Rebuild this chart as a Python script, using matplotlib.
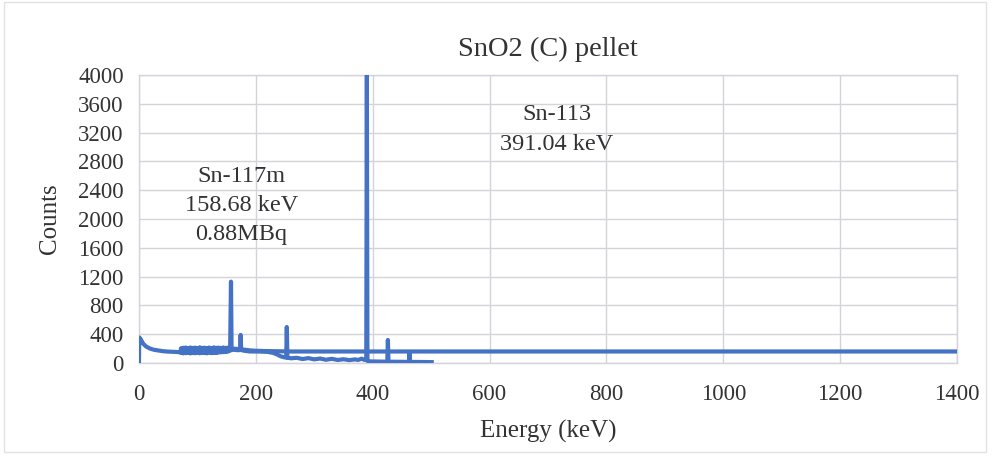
import matplotlib
matplotlib.use("Agg")
import matplotlib.pyplot as plt
from matplotlib.patches import Rectangle

# ---- data ----
# lower spectrum trace (0 - 500 keV)
energy_a_head = [0, 0.5, 3, 7, 12, 19, 25, 30, 40, 50, 60, 70]
counts_a_head = [0, 355, 330, 270, 230, 200, 185, 178, 165, 158, 155, 150]
band_energy = list(range(72, 158, 2))  # dense noisy region 72-156 keV
counts_a_band = [140, 152, 134, 148, 137, 155, 141, 150, 133, 147,
                 139, 154, 136, 149, 142, 156, 135, 146, 140, 153,
                 138, 151, 134, 148, 143, 157, 137, 150, 141, 155,
                 139, 152, 145, 158, 147, 160, 150, 162, 153, 165,
                 158, 168, 170]
energy_a_tail = [157.5, 158.5, 162, 166, 170, 173, 174, 175, 180, 190, 200,
                 210, 220, 230, 236, 242, 248, 252, 253, 254, 260, 270, 280,
                 290, 300, 310, 320, 330, 340, 350, 360, 370, 375, 381, 385,
                 389, 390, 391, 395, 410, 425, 426, 427, 440, 455, 462, 463,
                 464, 480, 501]
counts_a_tail = [1130, 180, 185, 180, 178, 180, 390, 180, 170, 160, 160,
                 158, 155, 140, 120, 95, 80, 75, 500, 75, 65, 72, 55,
                 68, 50, 62, 45, 58, 42, 52, 40, 50, 42, 60, 45,
                 40, 4000, 30, 22, 20, 18, 320, 18, 17, 16, 15, 140,
                 15, 14, 12]

# upper flat trace (71 - 1400 keV)
counts_b_band = [205, 172, 212, 182, 215, 170, 208, 186, 216, 175,
                 210, 180, 214, 172, 206, 188, 218, 176, 211, 182,
                 213, 171, 209, 185, 215, 176, 207, 189, 217, 178,
                 212, 182, 214, 174, 210, 187, 216, 180, 211, 184,
                 214, 190, 208]
energy_b_tail = [160, 170, 180, 190, 200, 220, 240, 260, 400, 600, 800, 1000, 1200, 1400]
counts_b_tail = [200, 195, 185, 175, 170, 165, 163, 160, 160, 160, 160, 160, 160, 160]

x_ticks = [0, 200, 400, 600, 800, 1000, 1200, 1400]
y_ticks = [0, 400, 800, 1200, 1600, 2000, 2400, 2800, 3200, 3600, 4000]

title = "SnO2 (C) pellet"
note_113 = "Sn-113\n391.04 keV"
note_117 = "Sn-117m\n158.68 keV\n0.88MBq"

energy_a = energy_a_head + band_energy + energy_a_tail
counts_a = counts_a_head + counts_a_band + counts_a_tail
energy_b = [71] + band_energy + energy_b_tail
counts_b = [150] + counts_b_band + counts_b_tail

# ---- styling ----
plt.rcParams['font.family'] = ['Liberation Serif', 'DejaVu Serif']
line_color = '#4472C4'
grid_color = '#D4D2DA'
text_color = '#333333'

fig = plt.figure(figsize=(9.94, 4.61), dpi=100)
fig.patch.set_facecolor('white')
fig.add_artist(Rectangle((0.004, 0.02), 0.988, 0.975, transform=fig.transFigure,
                         fill=False, edgecolor='#E2E2E2', linewidth=1.0))

ax = fig.add_axes([0.1398, 0.2126, 0.8230, 0.6244])
ax.plot(energy_b, counts_b, color=line_color, linewidth=3.0, solid_joinstyle='round', zorder=3)
ax.plot(energy_a, counts_a, color=line_color, linewidth=3.0, solid_joinstyle='round', zorder=3)

ax.set_xlim(0, 1400)
ax.set_ylim(0, 4000)
ax.set_xticks(x_ticks)
ax.set_yticks(y_ticks)
ax.tick_params(axis='both', length=0, labelsize=16.5, labelcolor=text_color)
ax.tick_params(axis='y', pad=11)
ax.tick_params(axis='x', pad=15)
ax.grid(True, color=grid_color, linewidth=1.0)
ax.set_axisbelow(True)
for s in ax.spines.values():
    s.set_color(grid_color)
    s.set_linewidth(1.0)

ax.set_title(title, fontsize=20.5, color=text_color, pad=14)
ax.set_xlabel("Energy (keV)", fontsize=18, color=text_color, labelpad=11)
ax.set_ylabel("Counts", fontsize=18, color=text_color, labelpad=12)

ax.text(715, 3250, note_113, fontsize=17.5, color=text_color, ha='center', va='center',
        linespacing=1.55)
ax.text(175, 2190, note_117, fontsize=17.5, color=text_color, ha='center', va='center',
        linespacing=1.5)

fig.savefig("out.png", dpi=100)
